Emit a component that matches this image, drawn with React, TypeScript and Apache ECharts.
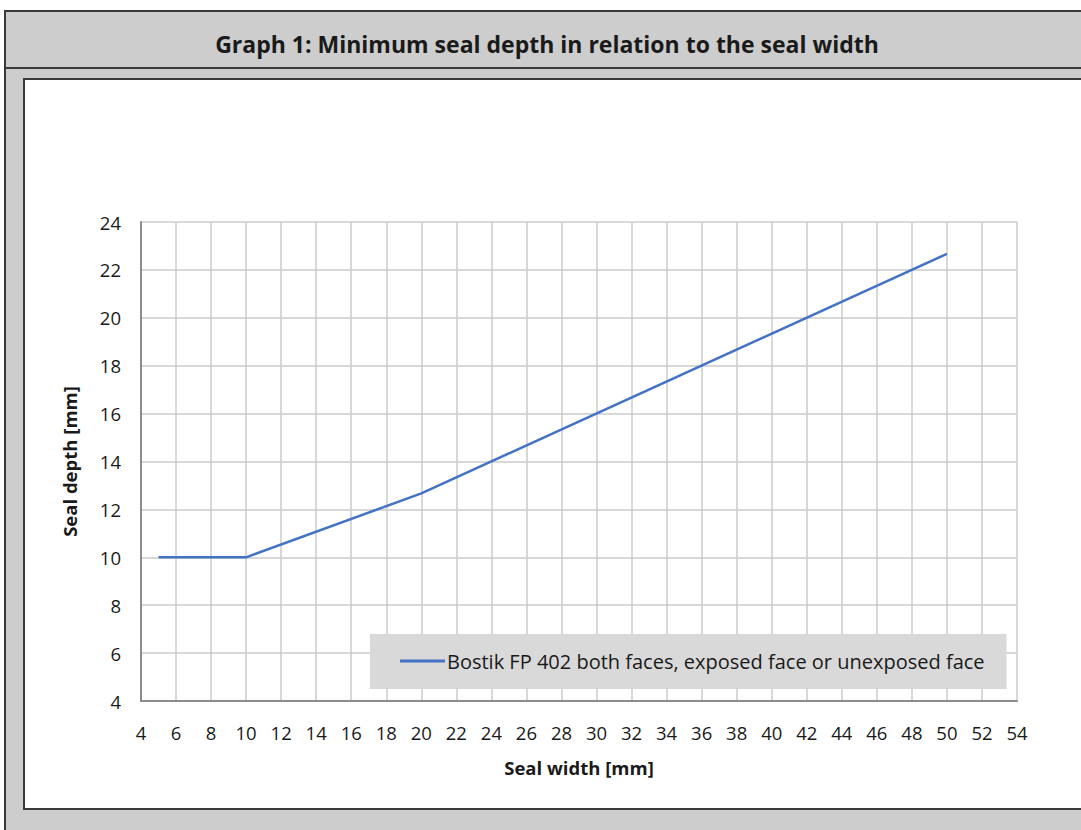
import React, { useEffect, useRef } from "react";
import * as echarts from "echarts";

const sealWidth = [5, 10, 20, 50];
const sealDepth = [10, 10, 12.67, 22.67];
const seriesName = "Bostik FP 402 both faces, exposed face or unexposed face";
const titleText = "Graph 1: Minimum seal depth in relation to the seal width";
const xName = "Seal width [mm]";
const yName = "Seal depth [mm]";

const FONT = "'Open Sans', 'Noto Sans', sans-serif";
const TXT = "#1a1a1a";

export default function App() {
  const ref = useRef<HTMLDivElement>(null);
  useEffect(() => {
    const chart = echarts.init(ref.current!, null, { renderer: "svg" });
    chart.setOption({
      animation: false,
      backgroundColor: "#ffffff",
      textStyle: { fontFamily: FONT },
      graphic: [
        {
          type: "rect",
          z: -10,
          silent: true,
          shape: { x: 5, y: 11, width: 1100, height: 840 },
          style: { fill: "#cdcdcd", stroke: "#3a3a3a", lineWidth: 2 },
        },
        {
          type: "line",
          z: -9,
          silent: true,
          shape: { x1: 5, y1: 68, x2: 1090, y2: 68 },
          style: { stroke: "#3a3a3a", lineWidth: 2 },
        },
        {
          type: "rect",
          z: -8,
          silent: true,
          shape: { x: 24, y: 79, width: 1080, height: 730 },
          style: { fill: "#ffffff", stroke: "#3a3a3a", lineWidth: 2 },
        },
        {
          type: "text",
          z: 10,
          x: 547,
          y: 44,
          style: {
            text: titleText,
            fill: TXT,
            font: `bold 23px ${FONT}`,
            align: "center",
            verticalAlign: "middle",
          },
        },
      ],
      grid: { left: 141, top: 222, right: 64, bottom: 129, containLabel: false },
      legend: {
        left: 370,
        top: 634,
        backgroundColor: "#d9d9d9",
        padding: [17, 22, 18, 30],
        itemWidth: 45,
        itemHeight: 3,
        itemGap: 2,
        icon: "path://M0,0H45V3H0Z",
        textStyle: { fontSize: 20, color: TXT, fontFamily: FONT, padding: [0, 0, 0, -3] },
        data: [{ name: seriesName }],
      },
      xAxis: {
        type: "value",
        min: 4,
        max: 54,
        interval: 2,
        name: xName,
        nameLocation: "middle",
        nameGap: 57,
        nameTextStyle: { fontSize: 18.5, fontWeight: "bold", color: TXT, fontFamily: FONT },
        axisLine: { show: true, lineStyle: { color: "#8c8c8c", width: 2 } },
        axisTick: { show: false },
        axisLabel: { fontSize: 18.5, color: TXT, margin: 22, fontFamily: FONT },
        splitLine: { show: true, lineStyle: { color: "#cbcbcb", width: 1.5 } },
      },
      yAxis: {
        type: "value",
        min: 4,
        max: 24,
        interval: 2,
        name: yName,
        nameLocation: "middle",
        nameGap: 62,
        nameTextStyle: { fontSize: 18.5, fontWeight: "bold", color: TXT, fontFamily: FONT },
        axisLine: { show: true, lineStyle: { color: "#8c8c8c", width: 2 } },
        axisTick: { show: false },
        axisLabel: { fontSize: 18.5, color: TXT, margin: 20, fontFamily: FONT },
        splitLine: { show: true, lineStyle: { color: "#cbcbcb", width: 1.5 } },
      },
      series: [
        {
          type: "line",
          name: seriesName,
          data: sealWidth.map((w, i) => [w, sealDepth[i]]),
          symbol: "none",
          lineStyle: { color: "#4472c4", width: 2.5 },
          itemStyle: { color: "#4472c4" },
        },
      ],
    });
    return () => chart.dispose();
  }, []);
  return (
    <div
      ref={ref}
      style={{ position: "fixed", left: 0, top: 0, width: 1081, height: 830 }}
    />
  );
}
